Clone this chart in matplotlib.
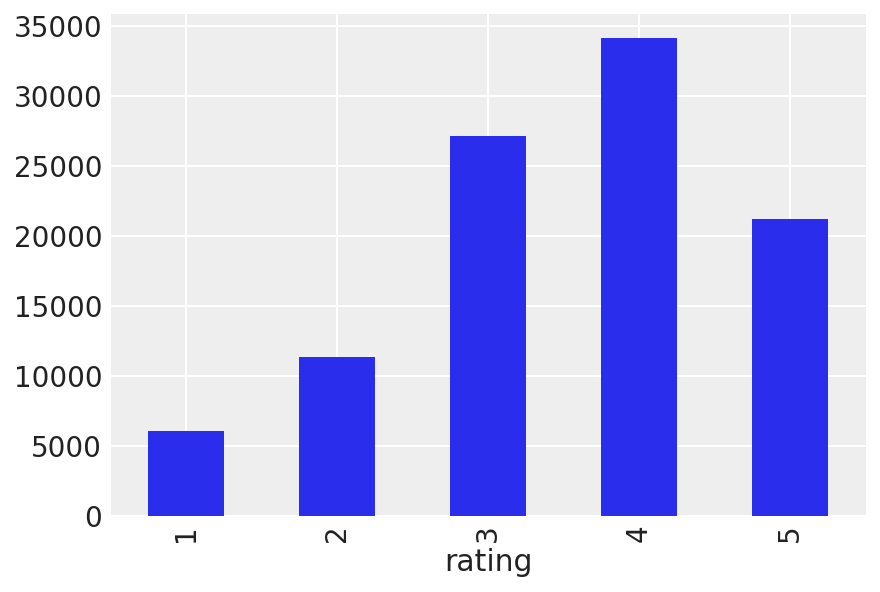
import matplotlib
matplotlib.use("Agg")
import matplotlib.pyplot as plt
import numpy as np

ratings = ["1", "2", "3", "4", "5"]
counts = [6110, 11370, 27145, 34174, 21201]

plt.rcParams["font.family"] = ["DejaVu Sans"]
plt.rcParams["font.size"] = 20

fig = plt.figure(figsize=(8.8, 5.92), dpi=100)
ax = fig.add_axes([110.5 / 880, 1 - 516 / 592, 755 / 880, 502 / 592])
ax.set_facecolor("#eeeeee")
x = np.arange(len(ratings))
ax.bar(x, counts, width=0.5, color="#2a2eec", zorder=2)
ax.set_xlim(-0.5, len(ratings) - 0.5)
ax.set_ylim(0, max(counts) * 1.05)
ax.set_xticks(x)
ax.set_xticklabels(ratings, rotation=90)
ax.set_yticks(np.arange(0, 35001, 5000))
ax.grid(True, color="white", linewidth=1.5, zorder=0)
ax.set_axisbelow(True)
for s in ax.spines.values():
    s.set_visible(False)
ax.tick_params(length=0, colors="#222222", labelsize=20, pad=6)
ax.set_xlabel("rating", fontsize=21.5, color="#222222", labelpad=4)
fig.savefig("out.png", dpi=100)
